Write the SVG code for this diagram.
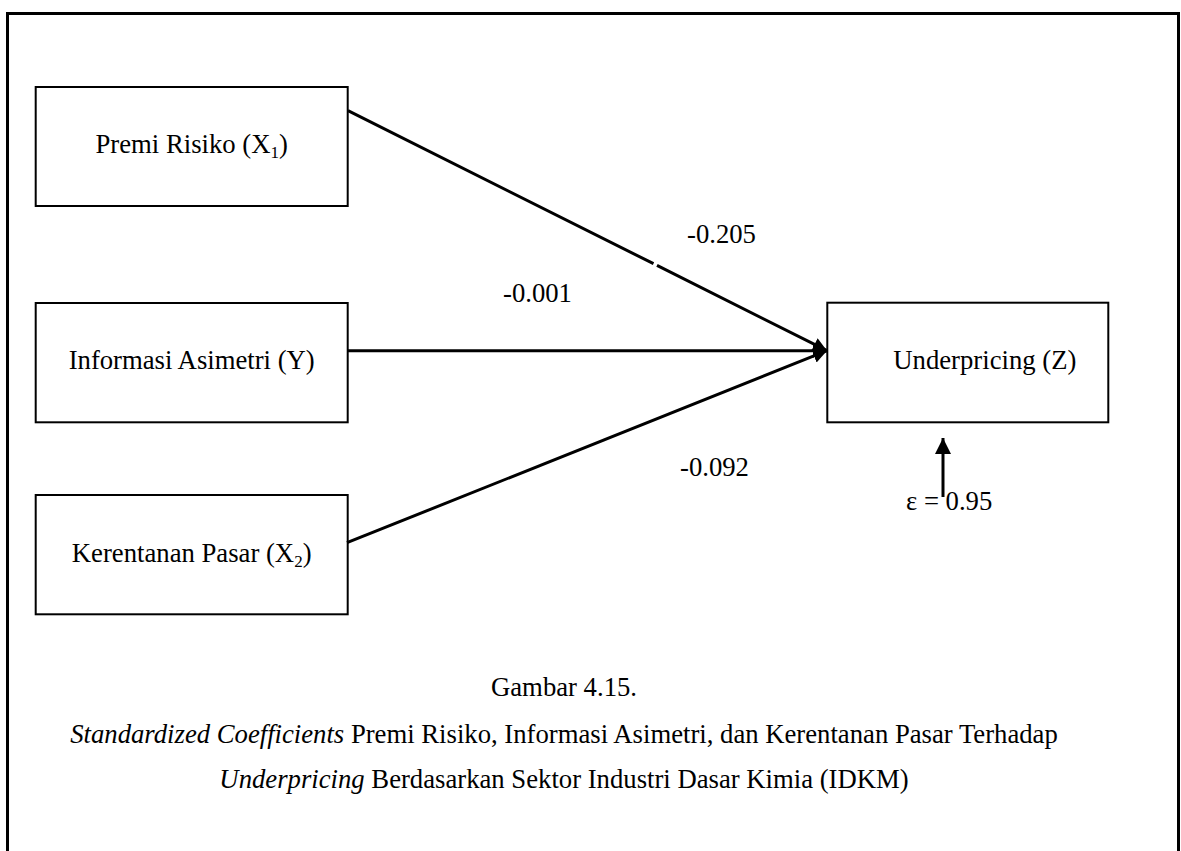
<svg xmlns="http://www.w3.org/2000/svg" width="1181" height="851" viewBox="0 0 1181 851">
  <style>
    .box { fill: #ffffff; stroke: #000000; stroke-width: 2; }
    .lbl { font-family: "Liberation Serif", "Times New Roman", serif; font-size: 26.7px; fill: #000000; }
    .mid { text-anchor: middle; }
    .edge { fill: none; stroke: #000000; stroke-width: 3; }
    .sub { font-size: 17px; }
    .it { font-style: italic; }
  </style>
  <defs>
    <marker id="arrow" markerUnits="userSpaceOnUse" markerWidth="16" markerHeight="16" refX="14" refY="7" orient="auto">
      <path d="M0,0 L14,7 L0,14 Z" fill="#000000"/>
    </marker>
    <marker id="arrow-up" markerUnits="userSpaceOnUse" markerWidth="18" markerHeight="18" refX="16" refY="8" orient="auto">
      <path d="M0,0 L16,8 L0,16 Z" fill="#000000"/>
    </marker>
  </defs>

  <rect width="1181" height="851" fill="#ffffff"/>
  <!-- page frame -->
  <rect x="7.5" y="13.5" width="1171" height="900" fill="none" stroke="#000000" stroke-width="3"/>

  <g id="node-x1">
    <rect class="box" x="35.7" y="87" width="312" height="119"/>
    <text class="lbl mid" x="191.7" y="153">Premi Risiko (X<tspan class="sub" dy="5">1</tspan><tspan dy="-5">)</tspan></text>
  </g>

  <g id="node-y">
    <rect class="box" x="35.7" y="303" width="312" height="119.3"/>
    <text class="lbl mid" x="191.7" y="369.3">Informasi Asimetri (Y)</text>
  </g>

  <g id="node-x2">
    <rect class="box" x="35.7" y="495" width="312" height="119.3"/>
    <text class="lbl mid" x="191.7" y="562.3">Kerentanan Pasar (X<tspan class="sub" dy="5">2</tspan><tspan dy="-5">)</tspan></text>
  </g>

  <g id="node-z">
    <rect class="box" x="827.3" y="302.7" width="281" height="119.6"/>
    <text class="lbl" x="893.3" y="369.3">Underpricing (Z)</text>
  </g>

  <g id="connectors">
    <path class="edge" d="M348,110.7 L653.5,263.7 M657,265.4 L827,350.7" marker-end="url(#arrow)"/>
    <path class="edge" d="M348,350.7 L827,350.7" marker-end="url(#arrow)"/>
    <path class="edge" d="M347,542.7 L827,350.7" marker-end="url(#arrow)"/>
    <path class="edge" d="M943,497 L943,438" marker-end="url(#arrow-up)"/>
  </g>

  <g id="edge-labels">
    <text class="lbl" x="687" y="243">-0.205</text>
    <text class="lbl" x="503" y="302">-0.001</text>
    <text class="lbl" x="680" y="476">-0.092</text>
    <text class="lbl" x="906" y="510">ε = 0.95</text>
  </g>

  <g id="caption">
    <text class="lbl mid" x="564" y="696">Gambar 4.15.</text>
    <text class="lbl mid" x="564" y="742.5"><tspan class="it">Standardized Coefficients</tspan> Premi Risiko, Informasi Asimetri, dan Kerentanan Pasar Terhadap</text>
    <text class="lbl mid" x="564" y="788"><tspan class="it">Underpricing</tspan> Berdasarkan Sektor Industri Dasar Kimia (IDKM)</text>
  </g>
</svg>
